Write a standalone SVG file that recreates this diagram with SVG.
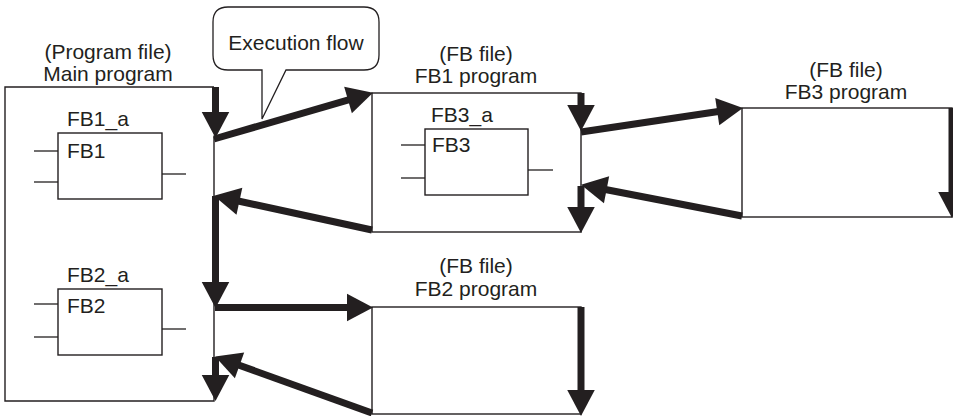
<svg xmlns="http://www.w3.org/2000/svg" width="953" height="416" viewBox="0 0 953 416">
<style>
.frame{fill:none;stroke:#231f20;stroke-width:1.4}
.fb{fill:#fff;stroke:#231f20;stroke-width:1.4}
.stub{stroke:#231f20;stroke-width:1.3}
.flow{fill:none;stroke:#231f20;stroke-width:7;marker-end:url(#ah)}
text{font-family:"Liberation Sans",Arial,sans-serif;font-size:21px;fill:#231f20}
.c{text-anchor:middle}
</style>
<defs>
<marker id="ah" markerUnits="userSpaceOnUse" markerWidth="27" markerHeight="28" refX="13" refY="13.75" orient="auto" overflow="visible">
<path d="M0,0 L26,13.75 L0,27.5 z" fill="#231f20"/>
</marker>
</defs>
<rect width="953" height="416" fill="#fff"/>

<g id="callout">
<path d="M228,7 H364 Q379,7 379,22 V55 Q379,70 364,70 H286 L262,119 V70 H228 Q213,70 213,55 V22 Q213,7 228,7 Z" fill="#fff" stroke="#231f20" stroke-width="1.3"/>
<text class="c" x="296" y="50">Execution flow</text>
</g>

<g id="main">
<text class="c" x="108" y="59">(Program file)</text>
<text class="c" x="108" y="81">Main program</text>
<path class="frame" d="M214,87 H5 V401 H214 V137"/>
</g>

<g id="fb1a">
<text x="67" y="126">FB1_a</text>
<rect class="fb" x="58" y="133" width="104" height="66"/>
<text x="67" y="158">FB1</text>
<line class="stub" x1="34" y1="151" x2="58" y2="151"/>
<line class="stub" x1="34" y1="182" x2="58" y2="182"/>
<line class="stub" x1="162" y1="174" x2="186" y2="174"/>
</g>

<g id="fb2a">
<text x="67" y="282">FB2_a</text>
<rect class="fb" x="58" y="289" width="104" height="66"/>
<text x="67" y="313">FB2</text>
<line class="stub" x1="34" y1="304" x2="58" y2="304"/>
<line class="stub" x1="34" y1="337" x2="58" y2="337"/>
<line class="stub" x1="162" y1="329" x2="186" y2="329"/>
</g>

<g id="fb1prog">
<text class="c" x="476" y="61">(FB file)</text>
<text class="c" x="476" y="83">FB1 program</text>
<rect class="frame" x="372" y="93" width="209" height="139"/>
</g>

<g id="fb3a">
<text x="431" y="122">FB3_a</text>
<rect class="fb" x="425" y="129" width="103" height="66"/>
<text x="432" y="152">FB3</text>
<line class="stub" x1="401" y1="145" x2="425" y2="145"/>
<line class="stub" x1="401" y1="178" x2="425" y2="178"/>
<line class="stub" x1="528" y1="170" x2="553" y2="170"/>
</g>

<g id="fb3prog">
<text class="c" x="846" y="77">(FB file)</text>
<text class="c" x="846" y="99">FB3 program</text>
<rect class="frame" x="742" y="108" width="210" height="109"/>
</g>

<g id="fb2prog">
<text class="c" x="476" y="273">(FB file)</text>
<text class="c" x="476" y="296">FB2 program</text>
<rect class="frame" x="372" y="307" width="209" height="107"/>
</g>

<g id="connectors">
<line class="flow" x1="215.5" y1="87" x2="215.5" y2="125"/>
<line class="flow" x1="214" y1="139" x2="360.5" y2="96.3"/>
<line class="flow" x1="372" y1="230" x2="226.7" y2="198.5"/>
<line class="flow" x1="215.5" y1="196" x2="215.5" y2="295"/>
<line class="flow" x1="215" y1="307.5" x2="360" y2="307.5"/>
<line class="flow" x1="372" y1="413" x2="227.3" y2="361"/>
<line class="flow" x1="215.5" y1="357" x2="215.5" y2="388"/>
<line class="flow" x1="581" y1="93" x2="581" y2="118"/>
<line class="flow" x1="581" y1="132" x2="730.1" y2="109.8"/>
<line class="flow" x1="742" y1="216" x2="593.8" y2="187.3"/>
<line class="flow" x1="581" y1="186" x2="581" y2="220"/>
<line class="flow" x1="581" y1="307" x2="581" y2="403"/>
<line class="flow" x1="952" y1="108" x2="952" y2="205"/>
</g>
</svg>
